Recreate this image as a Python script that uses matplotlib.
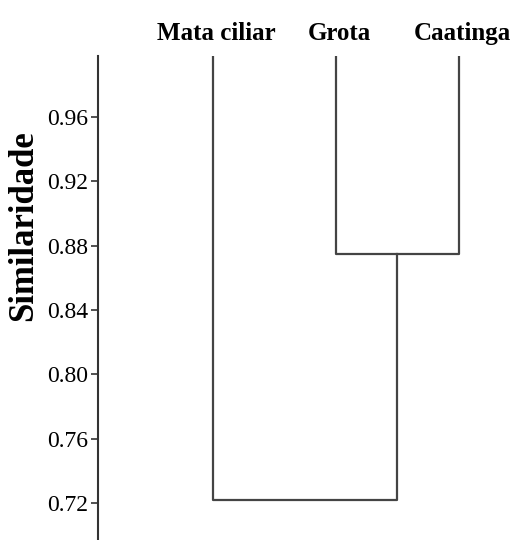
import matplotlib
matplotlib.use("Agg")
import matplotlib.pyplot as plt

# Dendrogram data (similarity)
labels = ["Mata ciliar", "Grota", "Caatinga"]
leaf_top = 1.0
merge_gc = 0.875   # Grota + Caatinga
merge_all = 0.722  # Mata ciliar + (Grota, Caatinga)
yticks = [0.72, 0.76, 0.80, 0.84, 0.88, 0.92, 0.96]

plt.rcParams["font.family"] = ["Liberation Serif", "DejaVu Serif"]

fig = plt.figure(figsize=(5.13, 5.40), dpi=100)
ax = fig.add_axes([98 / 513, 0, 1 - 98 / 513, (540 - 56) / 540])

lc = "#444444"
lw = 1.6
x = [0, 1, 2]
x_gc = (x[1] + x[2]) / 2

# Grota + Caatinga
ax.plot([x[1], x[1], x[2], x[2]], [leaf_top, merge_gc, merge_gc, leaf_top], color=lc, lw=lw)
# Mata ciliar + cluster
ax.plot([x[0], x[0], x_gc, x_gc], [leaf_top, merge_all, merge_all, merge_gc], color=lc, lw=lw)

ax.set_xlim(-0.935, 2.44)
ax.set_ylim(0.697, 0.998)

for xi, lab in zip(x, labels):
    ax.text(xi + 0.03, 1.047, lab, transform=ax.get_xaxis_transform(), ha="center",
            va="center", fontsize=18, fontweight="bold")

ax.set_yticks(yticks)
ax.set_yticklabels([f"{t:.2f}" for t in yticks], fontsize=17)
ax.tick_params(axis="y", length=5, width=1.2, color="#333333", pad=2)
ax.set_xticks([])

for s in ["top", "right", "bottom"]:
    ax.spines[s].set_visible(False)
ax.spines["left"].set_color("#333333")
ax.spines["left"].set_linewidth(1.5)

ax.set_ylabel("Similaridade", fontsize=25, fontweight="bold")
ax.yaxis.set_label_coords(-0.14, (540 - 226) / 484)

fig.savefig("out.png", dpi=100)
